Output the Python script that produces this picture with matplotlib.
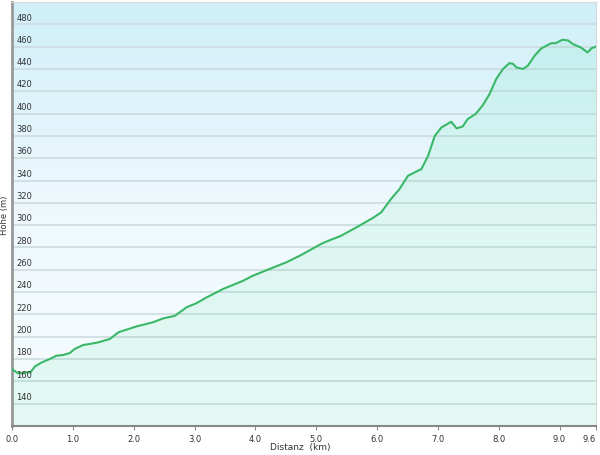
import numpy as np
import matplotlib
matplotlib.use('Agg')
import matplotlib.pyplot as plt
from matplotlib.colors import LinearSegmentedColormap

# Elevation profile
distance_km = [0.00, 0.10, 0.21, 0.30, 0.38, 0.49, 0.62, 0.73, 0.84, 0.95,
               1.03, 1.17, 1.28, 1.42, 1.61, 1.75, 1.88, 2.05, 2.32, 2.49,
               2.68, 2.87, 3.03, 3.20, 3.47, 3.80, 3.96, 4.26, 4.51, 4.73,
               5.11, 5.41, 5.71, 5.93, 6.07, 6.23, 6.37, 6.51, 6.62, 6.73,
               6.84, 6.95, 7.06, 7.22, 7.31, 7.41, 7.49, 7.62, 7.74, 7.85,
               7.96, 8.07, 8.18, 8.24, 8.29, 8.40, 8.48, 8.59, 8.70, 8.86,
               8.94, 9.05, 9.14, 9.22, 9.35, 9.46, 9.53, 9.60]
height_m = [171.0, 167.2, 168.0, 168.0, 173.5, 177.0, 180.0, 183.0, 183.6, 185.4,
            189.0, 192.6, 193.5, 195.0, 198.0, 204.0, 206.3, 209.3, 213.0, 216.5,
            218.8, 226.4, 230.0, 235.3, 242.8, 250.2, 254.7, 261.3, 266.7, 272.6,
            284.0, 290.5, 299.5, 306.4, 311.5, 323.4, 332.4, 344.3, 347.3, 350.3,
            362.2, 380.0, 387.6, 392.7, 386.7, 388.5, 395.0, 399.6, 407.6, 417.5,
            431.0, 440.0, 445.3, 444.4, 441.4, 440.0, 442.9, 451.8, 458.4, 463.0,
            463.2, 466.2, 465.6, 462.3, 459.3, 454.8, 458.7, 460.0]

xticks = [0.0, 1.0, 2.0, 3.0, 4.0, 5.0, 6.0, 7.0, 8.0, 9.0, 9.6]
yticks = list(range(140, 481, 20))

xmin, xmax = 0.0, 9.6
ymin, ymax = 120, 500

fig = plt.figure(figsize=(6.0, 4.56), dpi=100)
ax = fig.add_axes([12/600, 29/456, 584/600, 424/456])

# background gradient (blue at top to nearly white at bottom)
bg = LinearSegmentedColormap.from_list('bg', ['#f7fcfe', '#eff9fd', '#d0eff9'])
grad = np.linspace(0, 1, 256).reshape(-1, 1)
ax.imshow(grad, cmap=bg, origin='lower', aspect='auto',
          extent=[xmin, xmax, ymin, ymax], zorder=0)

# grid lines
for yv in yticks:
    ax.axhline(yv, color='#cddbe0', lw=1.2, zorder=1)

# filled area and profile line
ax.fill_between(distance_km, height_m, ymin, color='#00dc70', alpha=0.075,
                lw=0, zorder=2)
ax.plot(distance_km, height_m, '-', color='#3ab867', lw=1.5, zorder=3)

ax.set_xlim(xmin, xmax)
ax.set_ylim(ymin, ymax)

# y tick labels inside the plot, above each grid line
for yv in yticks:
    ax.text(0.07, yv + 2.5, f'{yv}', fontsize=6, color='#333333',
            ha='left', va='bottom', zorder=4)
ax.set_yticks([])

ax.set_xticks(xticks)
ax.set_xticklabels([f'{v:.1f}' for v in xticks], fontsize=6, color='#333333')
ax.get_xticklabels()[-1].set_ha('right')
ax.tick_params(axis='x', length=3, width=0.8, color='#888888', pad=3)

# spines
ax.spines['left'].set_color('#999999')
ax.spines['left'].set_linewidth(2.0)
ax.spines['bottom'].set_color('#888888')
ax.spines['bottom'].set_linewidth(1.5)
ax.spines['top'].set_color('#d8d8d8')
ax.spines['right'].set_color('#d8d8d8')

fig.text(300/600, 1 - 448/456, 'Distanz  (km)', fontsize=6.5, color='#333333',
         ha='center', va='center')
fig.text(5/600, 1 - 215/456, 'Höhe (m)', fontsize=6, color='#333333',
         ha='center', va='center', rotation=90)

plt.savefig('out.png', dpi=100)
